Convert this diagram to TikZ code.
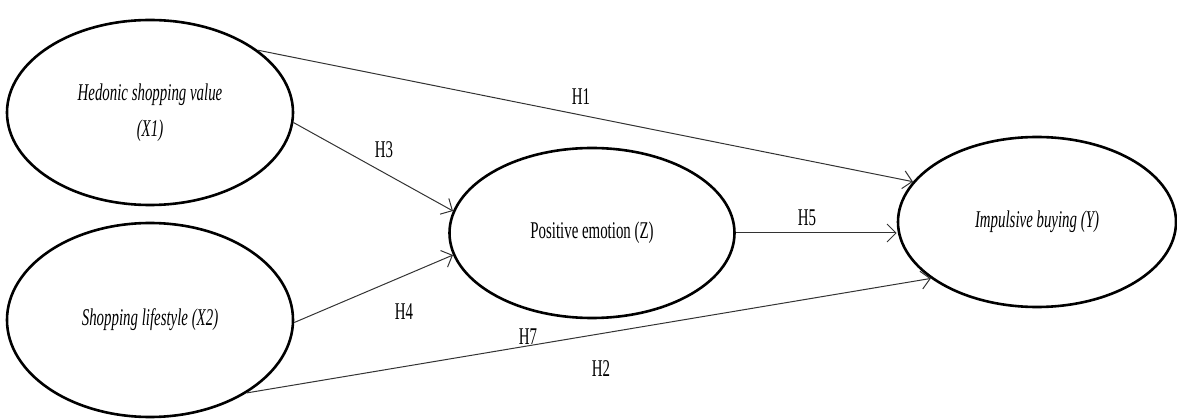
\documentclass[tikz,border=0pt]{standalone}
\usepackage{fontspec}
\setmainfont{Liberation Serif}[FakeStretch=0.62]
\usetikzlibrary{shapes.geometric,arrows.meta}
\begin{document}
\begin{tikzpicture}[x=1pt,y=-1pt,
  latent/.style={ellipse,draw=black,line width=2.6pt,inner sep=0pt,align=center,
    font=\fontsize{24}{36}\selectfont},
  path/.style={draw=black!80,line width=1pt,-{Straight Barb[length=9pt,width=18pt,line width=1pt]}},
  hlab/.style={font=\fontsize{24}{28}\selectfont,inner sep=0pt}]
\useasboundingbox (0,0) rectangle (1177,419);
\node[latent,minimum width=286pt,minimum height=185pt] (X1) at (150,112.5) {\itshape Hedonic shopping value\\\itshape (X1)};
\node[latent,minimum width=286pt,minimum height=194pt] (X2) at (150,320) {\itshape Shopping lifestyle (X2)};
\node[latent,minimum width=285pt,minimum height=170pt] (Z) at (592,233) {Positive emotion (Z)};
\node[latent,minimum width=278pt,minimum height=170pt] (Y) at (1037,222) {\itshape Impulsive buying (Y)};
\draw[path] (X1.30) -- (Y.162);
\draw[path] (X1.-4) -- (Z.171);
\draw[path] (X2.-1) -- (Z.-171);
\draw[path] (Z.east) -- (Z.east -| Y.west);
\draw[path] (X2.-37.6) -- (Y.-152);
\node[hlab] (l1) at (581,97) {H1};
\node[hlab] (l3) at (384,150) {H3};
\node[hlab] (l4) at (404,312) {H4};
\node[hlab] (l5) at (807,218) {H5};
\node[hlab] (l7) at (528,337) {H7};
\node[hlab] (l2) at (601,369) {H2};
\end{tikzpicture}
\end{document}
